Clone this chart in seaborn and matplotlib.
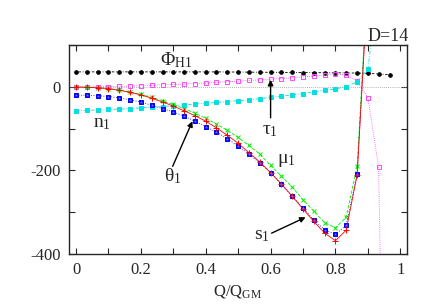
import numpy as np
import pandas as pd
import seaborn as sns
import matplotlib.pyplot as plt
from matplotlib.ticker import MultipleLocator

# Q/Q_GM grid (k/30)
q = [0.0, 0.033, 0.067, 0.1, 0.133, 0.167, 0.2, 0.233, 0.267, 0.3,
     0.333, 0.367, 0.4, 0.433, 0.467, 0.5, 0.533, 0.567, 0.6, 0.633,
     0.667, 0.7, 0.733, 0.767, 0.8, 0.833, 0.867, 0.9, 0.933, 0.967]

phi_h1 = [36, 36, 36, 36, 36, 36, 36, 36, 36, 36, 36, 36, 36, 36, 35.8,
          35.6, 35.4, 35.2, 35, 34.8, 34.6, 34.4, 34.2, 34, 33.8, 33.6,
          33.2, 32.5, 31, 29.5]
tau1 = [0, 0, 0.5, 1, 1.5, 2, 3, 4, 5, 6, 7, 8, 9.5, 11, 12.5, 14, 15.5,
        17, 18.5, 20, 22, 24, 26, 29, 32, 28, 14, -26, -191, -1600]
n1 = [-57, -56, -55, -54, -53, -52, -50, -49, -47, -45, -43, -41, -39,
      -37, -35, -33, -31, -28, -25, -22, -19, -16, -12, -8, -5, 1, 12, 43, 250]
theta1 = [-20, -20, -21, -23, -26, -31, -36, -44, -52, -60, -70, -82, -95,
          -108, -124, -142, -161, -182, -205, -233, -262, -290, -318, -342,
          -353, -331, -208, 260]
mu1 = [0, -1, -2, -4, -7, -12, -18, -25, -33, -42, -52, -63, -75, -89,
       -104, -121, -140, -161, -188, -213, -240, -270, -297, -325, -337,
       -312, -189, 270]
s1 = [0, -1, -2, -4, -8, -13, -19, -27, -36, -46, -57, -69, -82, -98,
      -116, -135, -157, -180, -205, -232, -262, -292, -322, -350, -368,
      -343, -210, 250]

sns.set_style("ticks")
plt.rcParams['font.family'] = ['Liberation Serif', 'DejaVu Serif']
plt.rcParams['mathtext.fontset'] = 'custom'
plt.rcParams['mathtext.rm'] = 'Liberation Serif'
plt.rcParams['mathtext.it'] = 'Liberation Serif:italic'
plt.rcParams['font.size'] = 12

fig = plt.figure(figsize=(4.36, 3.05), dpi=100)
ax = fig.add_axes([0.158, 0.167, 0.775, 0.685])

ax.axhline(0, color='#999999', lw=0.6, ls=(0, (1, 1.5)), zorder=1)

series = [
    (phi_h1, 'black', (0, (1, 2, 3, 2)), 'o', 2.6, 'black'),
    (tau1, '#ff44ff', (0, (1, 1.5)), 's', 3.4, 'none'),
    (n1, '#00e0e0', (0, (4, 2, 1, 2)), 's', 3.2, '#00e0e0'),
    (mu1, '#00ee00', (0, (4, 2)), 'x', 3.5, '#00ee00'),
    (theta1, '#0000ff', (0, (1, 2)), 's', 2.8, '#0000ff'),
    (s1, '#ff0000', '-', '+', 4.0, '#ff0000'),
]
for vals, col, ls, mk, ms, fc in series:
    df = pd.DataFrame({'q': q[:len(vals)], 'v': vals})
    sns.lineplot(data=df, x='q', y='v', ax=ax, color=col, lw=0.6,
                 linestyle=ls, marker=mk, markersize=ms,
                 markerfacecolor=fc, markeredgecolor=col,
                 markeredgewidth=0.7, sort=False)
# star on top of the blue squares
df = pd.DataFrame({'q': q[:len(theta1)], 'v': theta1})
sns.scatterplot(data=df, x='q', y='v', ax=ax, marker='*', s=6,
                color='#7070ff', linewidth=0, zorder=5)

ax.set_xlim(-0.022, 1.02)
ax.set_ylim(-400, 100)
ax.xaxis.set_minor_locator(MultipleLocator(0.1))
ax.yaxis.set_minor_locator(MultipleLocator(100))
ax.set_xticks([0, 0.2, 0.4, 0.6, 0.8, 1.0])
ax.set_xticklabels(['0', '0.2', '0.4', '0.6', '0.8', '1'])
ax.set_yticks([-400, -200, 0])
ax.set_yticklabels(['-400', '-200', '0'])
ax.tick_params(which='both', direction='in', top=True, right=True,
               length=4, width=0.8, labelsize=12, pad=6)
for sp in ax.spines.values():
    sp.set_linewidth(1.0)

ax.set_xlabel('Q/Q$_{\\rm GM}$', fontsize=12, labelpad=3)
ax.set_ylabel('')

ax.text(0.31, 63, '\u03a6$_{\\rm H1}$', ha='center', va='center', fontsize=14)
ax.text(0.08, -87, 'n$_{\\rm 1}$', ha='center', va='center', fontsize=14)
ax.text(0.298, -213, '\u03b8$_{\\rm 1}$', ha='center', va='center', fontsize=14)
ax.text(0.597, -104, '\u03c4$_{\\rm 1}$', ha='center', va='center', fontsize=14)
ax.text(0.647, -177, '\u03bc$_{\\rm 1}$', ha='center', va='center', fontsize=14)
ax.text(0.572, -356, 's$_{\\rm 1}$', ha='center', va='center', fontsize=14)
fig.text(0.938, 0.88, 'D=14', ha='right', va='center', fontsize=13)

arrow = dict(arrowstyle='-|>', color='black', lw=1.0, mutation_scale=8,
             shrinkA=0, shrinkB=0)
ax.annotate('', xy=(0.359, -82), xytext=(0.298, -190), arrowprops=arrow)
ax.annotate('', xy=(0.6, 17), xytext=(0.6, -74), arrowprops=arrow)
ax.annotate('', xy=(0.708, -312), xytext=(0.603, -350), arrowprops=arrow)

fig.savefig('out.png', dpi=100)
